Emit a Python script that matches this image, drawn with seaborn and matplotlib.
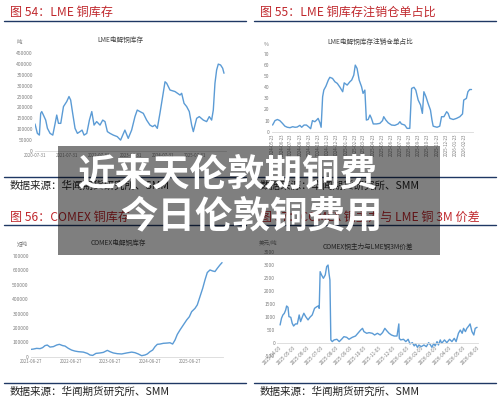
import matplotlib
matplotlib.use("Agg")
import matplotlib.pyplot as plt
from matplotlib.patches import Rectangle
from matplotlib.lines import Line2D
import seaborn as sns
import pandas as pd

# ---- data ----
# 图54 LME 电解铜库存 (吨)
lme_dates = ["2020-07-31", "2020-08-27", "2020-09-19", "2020-10-04", "2020-10-16", "2020-11-04",
             "2020-11-30", "2020-12-20", "2021-01-19", "2021-02-19", "2021-03-18", "2021-04-05",
             "2021-04-25", "2021-05-21", "2021-06-21", "2021-07-28", "2021-08-23", "2021-09-11",
             "2021-10-04", "2021-10-31", "2021-11-27", "2021-12-27", "2022-01-19", "2022-02-11",
             "2022-03-14", "2022-04-13", "2022-05-10", "2022-06-05", "2022-07-05", "2022-08-12",
             "2022-09-12", "2022-10-08", "2022-11-04", "2022-12-04", "2023-01-11", "2023-02-25",
             "2023-04-04", "2023-05-23", "2023-06-30", "2023-08-08", "2023-09-15", "2023-10-11",
             "2023-11-11", "2023-12-19", "2024-01-26", "2024-03-04", "2024-04-03", "2024-04-30",
             "2024-05-27", "2024-06-26", "2024-07-27", "2024-08-23", "2024-09-11", "2024-10-19",
             "2024-12-15", "2025-02-10", "2025-03-01", "2025-03-28", "2025-04-27", "2025-05-27",
             "2025-06-23", "2025-07-12", "2025-08-19", "2025-09-18", "2025-11-03", "2025-12-11",
             "2026-01-10", "2026-02-06", "2026-02-25", "2026-03-16", "2026-04-04", "2026-04-23",
             "2026-05-19", "2026-06-12", "2026-06-27"]
lme_stock = [124000, 81000, 73000, 173000, 181000, 165000, 142000, 104000, 81000, 73000, 127000,
             165000, 127000, 127000, 204000, 227000, 250000, 234000, 173000, 104000, 81000, 89000,
             96000, 73000, 81000, 142000, 181000, 119000, 135000, 119000, 142000, 135000, 89000,
             81000, 73000, 66000, 50000, 96000, 58000, 96000, 158000, 188000, 181000, 173000,
             142000, 119000, 112000, 119000, 104000, 173000, 250000, 318000, 311000, 280000,
             273000, 257000, 265000, 219000, 204000, 181000, 119000, 89000, 150000, 158000,
             142000, 135000, 158000, 142000, 188000, 311000, 372000, 399000, 395000, 380000,
             357000]
lme_ticks = ["2020-07-31", "2021-07-31", "2022-07-31", "2023-07-31", "2024-07-31", "2025-07-31"]

# 图55 LME 注销仓单占比 (%)
cw_dates = ["2024-05-23", "2024-05-31", "2024-06-08", "2024-06-16", "2024-06-25", "2024-07-03",
            "2024-07-11", "2024-07-20", "2024-07-29", "2024-08-06", "2024-08-13", "2024-08-22",
            "2024-08-28", "2024-09-05", "2024-09-13", "2024-09-22", "2024-09-27", "2024-10-03",
            "2024-10-11", "2024-10-17", "2024-10-22", "2024-10-28", "2024-11-01", "2024-11-06",
            "2024-11-10", "2024-11-17", "2024-11-25", "2024-11-30", "2024-12-09", "2024-12-17",
            "2024-12-25", "2025-01-03", "2025-01-12", "2025-01-17", "2025-01-27", "2025-02-05",
            "2025-02-11", "2025-02-18", "2025-02-23", "2025-03-01", "2025-03-08", "2025-03-16",
            "2025-03-21", "2025-03-27", "2025-04-01", "2025-04-07", "2025-04-13", "2025-04-18",
            "2025-04-24", "2025-05-05", "2025-05-16", "2025-05-25", "2025-05-29", "2025-06-05",
            "2025-06-13", "2025-06-24", "2025-07-05", "2025-07-16", "2025-07-22", "2025-07-27",
            "2025-08-07", "2025-08-15", "2025-08-24", "2025-08-30", "2025-09-07", "2025-09-13",
            "2025-09-21", "2025-09-29", "2025-10-05", "2025-10-10", "2025-10-17", "2025-10-24",
            "2025-11-01", "2025-11-06", "2025-11-10", "2025-11-16", "2025-11-23", "2025-12-02",
            "2025-12-08", "2025-12-16", "2025-12-25", "2025-12-30", "2026-01-05", "2026-01-16",
            "2026-01-27", "2026-02-07", "2026-02-16", "2026-02-20", "2026-03-01", "2026-03-06",
            "2026-03-12", "2026-03-18"]
cw_ratio = [6, 10, 11, 10, 7.5, 5, 4, 3.6, 4.5, 4, 4.2, 5.7, 4, 6, 6, 4, 2.7, 10, 9, 10.5, 12, 8,
            4, 31.5, 37.5, 41, 46.5, 49, 48, 45, 43.5, 40, 36, 44, 42, 45, 46.5, 51, 60, 57, 46.5,
            40.5, 34.5, 37.5, 10.5, 11, 15, 12, 7, 7, 7.5, 10, 13.5, 10.5, 8, 6, 5.7, 7, 9, 7, 6,
            3, 3, 39, 40, 37.5, 28.5, 24, 16.5, 36, 31.5, 25.5, 19.5, 10.5, 5, 4.5, 4, 5, 13.5,
            13.5, 18, 16.5, 12, 11, 12, 13.5, 16, 28.5, 30, 36, 38, 38]
cw_ticks = pd.date_range("2024-05-01", periods=22, freq="MS") + pd.Timedelta(days=22)

# 图56 COMEX 电解铜库存 (短吨)
cmx_dates = ["2021-08-27", "2021-09-17", "2021-10-18", "2021-11-18", "2021-12-12", "2022-01-03",
             "2022-01-24", "2022-02-18", "2022-03-21", "2022-04-20", "2022-05-15", "2022-06-15",
             "2022-07-06", "2022-08-06", "2022-09-05", "2022-10-06", "2022-11-06", "2022-12-22",
             "2023-01-28", "2023-02-21", "2023-03-18", "2023-04-17", "2023-05-24", "2023-06-24",
             "2023-07-31", "2023-08-24", "2023-09-24", "2023-10-31", "2023-12-10", "2024-01-25",
             "2024-03-11", "2024-04-10", "2024-05-11", "2024-06-11", "2024-07-12", "2024-08-02",
             "2024-08-27", "2024-09-20", "2024-10-12", "2024-11-02", "2024-11-27", "2024-12-27",
             "2025-02-02", "2025-02-27", "2025-03-23", "2025-04-14", "2025-05-05", "2025-05-30",
             "2025-06-29", "2025-07-30", "2025-08-24", "2025-09-14", "2025-10-15", "2025-11-05",
             "2025-11-30", "2025-12-25", "2026-01-15", "2026-02-05", "2026-03-02", "2026-03-26",
             "2026-04-17", "2026-05-09", "2026-06-02", "2026-06-21"]
cmx_stock = [51000, 53000, 58000, 56000, 63000, 77000, 81000, 67000, 70000, 81000, 86000, 77000,
             74000, 58000, 46000, 39000, 35000, 32000, 23000, 12000, 9000, 23000, 26000, 30000,
             44000, 35000, 26000, 21000, 19000, 26000, 32000, 28000, 19000, 7000, 12000, 19000,
             35000, 46000, 70000, 86000, 88000, 93000, 95000, 97000, 88000, 116000, 155000,
             186000, 220000, 255000, 278000, 313000, 336000, 360000, 418000, 476000, 534000,
             585000, 603000, 596000, 592000, 615000, 638000, 654000]
cmx_ticks = ["2021-08-27", "2022-08-27", "2023-08-27", "2024-08-27", "2025-08-27"]

# 图57 COMEX 铜主力与 LME 铜 3M 价差 (美元/吨)
sp_dates = ["2025-04-05", "2025-04-08", "2025-04-11", "2025-04-14", "2025-04-17", "2025-04-19",
            "2025-04-22", "2025-04-24", "2025-04-28", "2025-05-01", "2025-05-04", "2025-05-08",
            "2025-05-12", "2025-05-16", "2025-05-19", "2025-05-23", "2025-05-26", "2025-05-30",
            "2025-06-04", "2025-06-08", "2025-06-13", "2025-06-18", "2025-06-23", "2025-06-26",
            "2025-06-28", "2025-06-30", "2025-07-03", "2025-07-07", "2025-07-11", "2025-07-14",
            "2025-07-17", "2025-07-19", "2025-07-21", "2025-07-23", "2025-07-26", "2025-07-30",
            "2025-08-05", "2025-08-10", "2025-08-15", "2025-08-20", "2025-08-26", "2025-08-31",
            "2025-09-07", "2025-09-14", "2025-09-19", "2025-09-25", "2025-09-29", "2025-10-02",
            "2025-10-08", "2025-10-13", "2025-10-20", "2025-10-25", "2025-10-31", "2025-11-06",
            "2025-11-11", "2025-11-16", "2025-11-20", "2025-11-25", "2025-11-30", "2025-12-06",
            "2025-12-12", "2025-12-16", "2025-12-17", "2025-12-20", "2025-12-26", "2025-12-31",
            "2026-01-05", "2026-01-09", "2026-01-14", "2026-01-18", "2026-01-21", "2026-01-25",
            "2026-01-28", "2026-02-02", "2026-02-08", "2026-02-13", "2026-02-18", "2026-02-22",
            "2026-02-25", "2026-03-01", "2026-03-04", "2026-03-08", "2026-03-11", "2026-03-15",
            "2026-03-18", "2026-03-24", "2026-03-29", "2026-04-04", "2026-04-09", "2026-04-14",
            "2026-04-18", "2026-04-23", "2026-04-27", "2026-05-01", "2026-05-04", "2026-05-08",
            "2026-05-11", "2026-05-15", "2026-05-18", "2026-05-22", "2026-05-26", "2026-05-29",
            "2026-06-02"]
sp_spread = [705, 960, 1090, 1150, 1280, 1435, 1385, 1025, 1000, 770, 665, 745, 745, 1090, 835,
             1025, 1155, 1025, 900, 1000, 1090, 1345, 1410, 1435, 1345, 2755, 2630, 2500, 2630,
             2950, 3010, 2690, 2435, 130, 65, 130, 155, 65, 155, 255, 230, 155, 230, 280, 385,
             510, 575, 450, 385, 410, 385, 320, 385, 320, 410, 575, 485, 385, 320, 280, 280, 745,
             190, 130, 155, 65, 155, -25, 25, -100, -25, -155, -65, -130, -65, -130, 25, -65,
             -155, 0, -100, 65, -65, 130, 0, 130, 25, 155, 65, 190, 65, 385, 510, 385, 575, 450,
             575, 665, 745, 450, 320, 575, 615]
sp_ticks = ["2025-04-03", "2025-05-03", "2025-06-03", "2025-07-03", "2025-08-03", "2025-09-03",
            "2025-10-03", "2025-11-03", "2025-12-03", "2026-01-03", "2026-02-03", "2026-03-03",
            "2026-04-03", "2026-05-03", "2026-06-03"]

W, H = 500, 401
BLUE = "#5b9bd5"
RED = "#c0282d"
NAVY = "#1f3864"
GREY = "#7f7f7f"

sns.set_theme(style="white")
plt.rcParams["font.family"] = ["Noto Sans CJK SC", "DejaVu Sans"]

fig = plt.figure(figsize=(W / 100, H / 100), dpi=100)
fig.patch.set_facecolor("white")


def fx(x):
    return x / W


def fy(y):
    return 1 - y / H


def px_axes(x0, y0, x1, y1):
    return fig.add_axes([fx(x0), fy(y1), (x1 - x0) / W, (y1 - y0) / H])


def chart(ax, dates, vals, xlim, ylim, yticks, xticks, xlabels, rot=0, zero_axis=False):
    sns.lineplot(x=pd.to_datetime(dates), y=vals, ax=ax, color=BLUE, linewidth=1.0)
    if zero_axis:
        ax.spines["bottom"].set_position(("data", 0))
    ax.set_xlim(pd.to_datetime(xlim[0]), pd.to_datetime(xlim[1]))
    ax.set_ylim(*ylim)
    ax.set_yticks(yticks)
    ax.set_yticklabels([str(v) for v in yticks], fontsize=3.6, color=GREY)
    ax.set_xticks(pd.to_datetime(xticks))
    if rot == 90:
        ax.set_xticklabels(xlabels, fontsize=3.2, color=GREY, rotation=90)
    elif rot == 45:
        ax.set_xticklabels(xlabels, fontsize=3.4, color=GREY, rotation=45, ha="right",
                           rotation_mode="anchor")
    else:
        ax.set_xticklabels(xlabels, fontsize=3.1, color=GREY)
    ax.tick_params(length=0, pad=1.5)
    for s in ["top", "right", "left"]:
        ax.spines[s].set_visible(False)
    ax.spines["bottom"].set_color("#d9d9d9")
    ax.spines["bottom"].set_linewidth(0.6)
    ax.set_xlabel("")
    ax.set_ylabel("")
    ax.patch.set_alpha(0)


# chart 1
ax1 = px_axes(35, 53, 226, 151)
chart(ax1, lme_dates, lme_stock, ("2020-07-31", "2026-07-20"), (0, 450000),
      list(range(0, 450001, 50000)), lme_ticks, lme_ticks)

# chart 2
ax2 = px_axes(271.7, 54, 473.3, 131.7)
chart(ax2, cw_dates, cw_ratio, ("2024-05-20", "2026-03-24"), (0, 70),
      list(range(0, 71, 10)), cw_ticks, [d.strftime("%Y-%m-%d") for d in cw_ticks], rot=90)

# chart 3
ax3 = px_axes(31, 256, 222.7, 356.7)
chart(ax3, cmx_dates, cmx_stock, ("2021-08-27", "2026-06-27"), (0, 700000),
      list(range(0, 700001, 100000)), cmx_ticks, cmx_ticks)

# chart 4
ax4 = px_axes(277.3, 252.3, 478, 356.3)
chart(ax4, sp_dates, sp_spread, ("2025-03-30", "2026-06-04"), (-500, 3500),
      list(range(-500, 3501, 500)), sp_ticks, sp_ticks, rot=45, zero_axis=True)

# chart titles and units
fig.text(fx(120), fy(40), "LME电解铜库存", fontsize=4.8, color="#404040", ha="center", va="center")
fig.text(fx(19), fy(43), "吨", fontsize=4, color=GREY, ha="center", va="center")
fig.text(fx(370), fy(42), "LME电解铜库存注销仓单占比", fontsize=4.8, color="#404040",
         ha="center", va="center")
fig.text(fx(266), fy(44), "%", fontsize=3.8, color=GREY, ha="center", va="center")
fig.text(fx(118), fy(243), "COMEX电解铜库存", fontsize=4.8, color="#404040", ha="center", va="center")
fig.text(fx(22), fy(243), "短吨", fontsize=4, color=GREY, ha="center", va="center")
fig.text(fx(368), fy(247), "COMEX铜主力与LME铜3M价差", fontsize=4.8, color="#404040",
         ha="center", va="center")
fig.text(fx(268), fy(243), "美元/吨", fontsize=4, color=GREY, ha="center", va="center")

# report frame: red figure titles, rules and sources
titles = [(10, 12, "图 54：LME 铜库存"), (260, 12, "图 55：LME 铜库存注销仓单占比"),
          (10, 217, "图 56：COMEX 铜库存"), (260, 217, "图 57：COMEX 铜主力与 LME 铜 3M 价差")]
for x, y, t in titles:
    fig.text(fx(x), fy(y), t, fontsize=8.7, color=RED, ha="left", va="center")

for y in [21, 177, 225, 383]:
    for x0, x1 in [(4, 246), (254, 496)]:
        fig.add_artist(Line2D([fx(x0), fx(x1)], [fy(y), fy(y)], color=NAVY, linewidth=1.0,
                              transform=fig.transFigure))

for x, y in [(10, 186), (260, 186), (10, 392), (260, 392)]:
    fig.text(fx(x), fy(y), "数据来源：华闻期货研究所、SMM", fontsize=7.6, color="#222222",
             ha="left", va="center")

# grey banner with white headline on top
fig.add_artist(Rectangle((fx(58), fy(255)), (440 - 58) / W, (255 - 146) / H,
                         facecolor="black", alpha=0.5, edgecolor="none",
                         transform=fig.transFigure, zorder=10))
fig.text(fx(77), fy(174), "近来天伦敦期铜费", fontsize=27, color="white", fontweight="bold",
         ha="left", va="center", zorder=11)
fig.text(fx(120), fy(216), "今日伦敦铜费用", fontsize=27, color="white", fontweight="bold",
         ha="left", va="center", zorder=11)

fig.savefig("out.png", dpi=100)
